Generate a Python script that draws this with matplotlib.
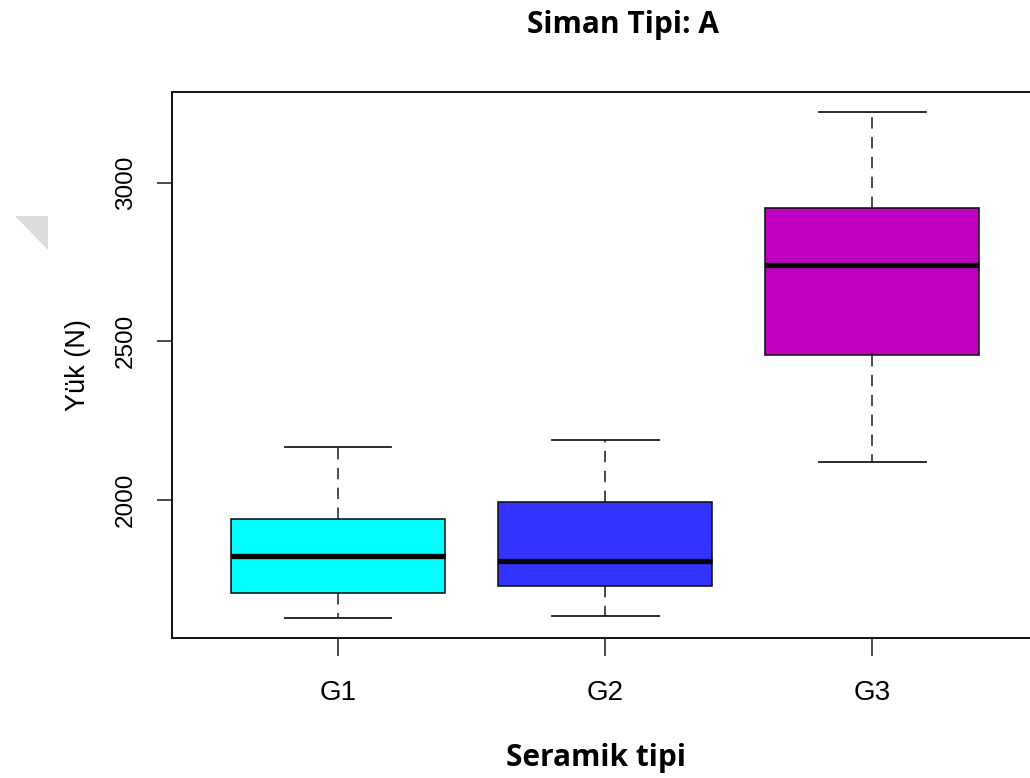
import matplotlib
matplotlib.use("Agg")
import matplotlib.pyplot as plt
from matplotlib.patches import Polygon

# Five-number summaries per ceramic group (load in N)
groups = ["G1", "G2", "G3"]
whisker_low = [1627, 1631, 2120]
q1 = [1704, 1726, 2456]
median = [1823, 1805, 2740]
q3 = [1940, 1993, 2922]
whisker_high = [2166, 2187, 3225]
box_colors = ["#00FFFF", "#3333FF", "#C000C0"]
y_ticks = [2000, 2500, 3000]

title_text = "Siman Tipi: A"
x_label = "Seramik tipi"
y_label = "Yük (N)"

body_family = ["Liberation Sans", "DejaVu Sans"]
head_family = ["Open Sans", "DejaVu Sans"]

W, H = 1030, 778
fig = plt.figure(figsize=(W / 100, H / 100), dpi=100)
fig.patch.set_facecolor("white")

# plotting region in pixels; the right edge runs just past the canvas
left, right, top, bottom = 172.3, 1038.0, 91.5, 638.0
ax = fig.add_axes([left / W, (H - bottom) / H, (right - left) / W, (bottom - top) / H])

stats = []
for i, g in enumerate(groups):
    stats.append(dict(label=g, whislo=whisker_low[i], q1=q1[i], med=median[i],
                      q3=q3[i], whishi=whisker_high[i], fliers=[]))

positions = list(range(1, len(groups) + 1))
bp = ax.bxp(stats, positions=positions, widths=0.8, patch_artist=True,
            showfliers=False, manage_ticks=False,
            boxprops=dict(linewidth=1.15, edgecolor="#111111"),
            medianprops=dict(linewidth=3.8, color="black", solid_capstyle="butt"),
            whiskerprops=dict(linewidth=1.1, color="#1a1a1a", linestyle=(0, (7.5, 5.5))),
            capprops=dict(linewidth=1.3, color="#1a1a1a"),
            capwidths=0.4)
for patch, c in zip(bp["boxes"], box_colors):
    patch.set_facecolor(c)

# R-style axis extents: 4% padding around the data range
lo, hi = min(whisker_low), max(whisker_high)
pad = 0.04 * (hi - lo)
ax.set_ylim(lo - pad, hi + pad)
ax.set_xlim(0.5 - 0.12, len(groups) + 0.5 + 0.12)

ax.set_yticks(y_ticks)
ax.set_yticklabels([str(v) for v in y_ticks], rotation=90, va="center",
                   family=body_family, fontsize=17.5)
ax.set_xticks(positions)
ax.set_xticklabels(groups, family=body_family, fontsize=20)
ax.tick_params(axis="y", length=10.5, width=1.1, pad=15, color="#1a1a1a")
ax.tick_params(axis="x", length=13, width=1.1, pad=17, color="#1a1a1a")

for s in ax.spines.values():
    s.set_linewidth(1.4)
    s.set_color("#111111")

ax.set_ylabel(y_label, family=body_family, fontsize=19.5, labelpad=17)

fig.text(623 / W, 1 - 33 / H, title_text, ha="center", va="baseline",
         family=head_family, fontweight="bold", fontsize=21.5)
fig.text(596 / W, 1 - 766 / H, x_label, ha="center", va="baseline",
         family=head_family, fontweight="bold", fontsize=21.5)

# faint grey page-curl mark at the left margin
fig.patches.append(Polygon([[15 / W, 1 - 216 / H], [48 / W, 1 - 216 / H], [48 / W, 1 - 250 / H]],
                           closed=True, transform=fig.transFigure,
                           facecolor="#dcdcdc", edgecolor="none"))

fig.savefig("out.png", dpi=100)
